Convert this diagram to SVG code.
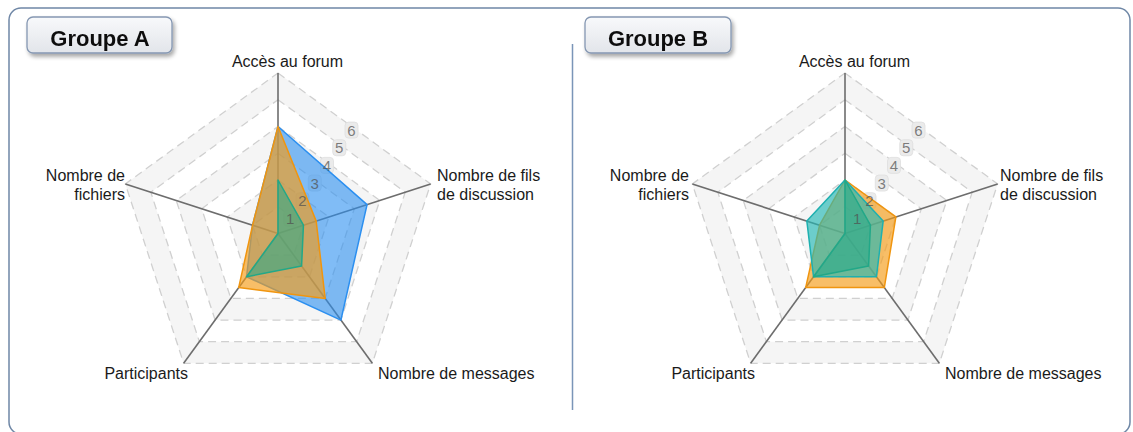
<svg xmlns="http://www.w3.org/2000/svg" xmlns:xlink="http://www.w3.org/1999/xlink" width="1133" height="432" viewBox="0 0 1133 432">
  <style>
    .band-g { fill: #f5f5f5; }
    .band-w { fill: #ffffff; }
    .ring { fill: none; stroke: #d0d0d0; stroke-width: 1.3; stroke-dasharray: 8 5; }
    .axis { stroke: #6d6d6d; stroke-width: 1.6; }
    .tickbox { fill: #ebebeb; stroke: #dedede; stroke-width: 0.8; }
    .tick { font-family: "Liberation Sans", Arial, sans-serif; font-size: 15px; fill: #505050; fill-opacity: 0.72; text-anchor: middle; }
    .lbl { font-family: "Liberation Sans", Arial, sans-serif; font-size: 16px; fill: #1a1a1a; }
    .title { font-family: "Liberation Sans", Arial, sans-serif; font-size: 22px; font-weight: bold; fill: #111; text-anchor: middle; }
    .titlebox { fill: url(#tg); stroke: #8597b2; stroke-width: 1.3; }
    .s-blue { fill: #2b8ff0; fill-opacity: 0.6; stroke: #2b8ff0; stroke-width: 1.5; stroke-linejoin: round; }
    .s-orange { fill: #f59b15; fill-opacity: 0.65; stroke: #f0950f; stroke-width: 1.5; stroke-linejoin: round; }
    .s-green { fill: #2aa888; fill-opacity: 0.58; stroke: #22a888; stroke-width: 1.5; stroke-linejoin: round; }
    .s-teal { fill: #25b8b5; fill-opacity: 0.66; stroke: #1eb0b0; stroke-width: 1.5; stroke-linejoin: round; }
  </style>
  <defs>
    <linearGradient id="tg" x1="0" y1="0" x2="0" y2="1">
      <stop offset="0" stop-color="#f8f9fb"/>
      <stop offset="1" stop-color="#e2e5ea"/>
    </linearGradient>
    <filter id="sh" x="-10%" y="-20%" width="130%" height="160%">
      <feGaussianBlur in="SourceAlpha" stdDeviation="2"/>
      <feOffset dx="2" dy="3" result="b"/>
      <feComponentTransfer><feFuncA type="linear" slope="0.35"/></feComponentTransfer>
      <feMerge><feMergeNode/><feMergeNode in="SourceGraphic"/></feMerge>
    </filter>
    <g id="grid">
      <polygon class="band-g" points="0,-160.5 152.65,-49.59 94.34,129.84 -94.34,129.84 -152.65,-49.59"/>
      <polygon class="band-w" points="0,-133.75 127.21,-41.33 78.62,108.2 -78.62,108.2 -127.21,-41.33"/>
      <polygon class="band-g" points="0,-107 101.77,-33.06 62.89,86.56 -62.89,86.56 -101.77,-33.06"/>
      <polygon class="band-w" points="0,-80.25 76.33,-24.8 47.17,64.92 -47.17,64.92 -76.33,-24.8"/>
      <polygon class="band-g" points="0,-53.5 50.88,-16.53 31.45,43.28 -31.45,43.28 -50.88,-16.53"/>
      <polygon class="band-w" points="0,-26.75 25.44,-8.27 15.72,21.64 -15.72,21.64 -25.44,-8.27"/>
      <polygon class="ring" points="0,-160.5 152.65,-49.59 94.34,129.84 -94.34,129.84 -152.65,-49.59"/>
      <polygon class="ring" points="0,-133.75 127.21,-41.33 78.62,108.2 -78.62,108.2 -127.21,-41.33"/>
      <polygon class="ring" points="0,-107 101.77,-33.06 62.89,86.56 -62.89,86.56 -101.77,-33.06"/>
      <polygon class="ring" points="0,-80.25 76.33,-24.8 47.17,64.92 -47.17,64.92 -76.33,-24.8"/>
      <polygon class="ring" points="0,-53.5 50.88,-16.53 31.45,43.28 -31.45,43.28 -50.88,-16.53"/>
      <polygon class="ring" points="0,-26.75 25.44,-8.27 15.72,21.64 -15.72,21.64 -25.44,-8.27"/>
      <line class="axis" x1="0" y1="0" x2="0" y2="-160.5"/>
      <line class="axis" x1="0" y1="0" x2="152.65" y2="-49.59"/>
      <line class="axis" x1="0" y1="0" x2="94.34" y2="129.84"/>
      <line class="axis" x1="0" y1="0" x2="-94.34" y2="129.84"/>
      <line class="axis" x1="0" y1="0" x2="-152.65" y2="-49.59"/>
      <rect class="tickbox" x="5.75" y="-23.15" width="13" height="16" rx="3.5"/>
      <rect class="tickbox" x="18" y="-40.8" width="13" height="16" rx="3.5"/>
      <rect class="tickbox" x="30.25" y="-58.45" width="13" height="16" rx="3.5"/>
      <rect class="tickbox" x="42.5" y="-76.1" width="13" height="16" rx="3.5"/>
      <rect class="tickbox" x="54.75" y="-93.75" width="13" height="16" rx="3.5"/>
      <rect class="tickbox" x="67" y="-111.4" width="13" height="16" rx="3.5"/>
    </g>
    <g id="ticks">
      <text class="tick" x="12.25" y="-9.7">1</text>
      <text class="tick" x="24.5" y="-27.4">2</text>
      <text class="tick" x="36.75" y="-45">3</text>
      <text class="tick" x="49" y="-62.7">4</text>
      <text class="tick" x="61.25" y="-80.3">5</text>
      <text class="tick" x="73.5" y="-98">6</text>
    </g>
  </defs>

  <g id="frame">
    <rect x="9" y="8" width="1121" height="426" rx="12" fill="#ffffff" stroke="#6f87a6" stroke-width="1.5"/>
    <line x1="572.5" y1="44" x2="572.5" y2="410" stroke="#7a95b8" stroke-width="1.5"/>
  </g>

  <g id="title-a" filter="url(#sh)">
    <rect class="titlebox" x="27" y="17" width="145" height="36" rx="6"/>
    <text class="title" x="100" y="46">Groupe A</text>
  </g>
  <g id="title-b" filter="url(#sh)">
    <rect class="titlebox" x="585" y="17" width="146" height="36" rx="6"/>
    <text class="title" x="658" y="46">Groupe B</text>
  </g>

  <g id="chart-a" transform="translate(278,233.5)">
    <use xlink:href="#grid" href="#grid"/>
    <g id="series-a">
      <polygon class="s-blue" points="0,-107 89.05,-28.93 62.89,86.56 -31.45,43.28 -25.44,-8.27"/>
      <polygon class="s-orange" points="0,-107 38.16,-12.4 47.17,64.92 -39.31,54.1 -25.44,-8.27"/>
      <polygon class="s-green" points="0,-53.5 25.44,-8.27 23.58,32.46 -31.45,43.28 0,0"/>
    </g>
    <use xlink:href="#ticks" href="#ticks"/>
  </g>
  <g id="labels-a">
    <text class="lbl" x="287.5" y="67" text-anchor="middle">Accès au forum</text>
    <text class="lbl" x="437" y="181">Nombre de fils</text>
    <text class="lbl" x="437" y="200">de discussion</text>
    <text class="lbl" x="378" y="379">Nombre de messages</text>
    <text class="lbl" x="188" y="379" text-anchor="end">Participants</text>
    <text class="lbl" x="125" y="181" text-anchor="end">Nombre de</text>
    <text class="lbl" x="125" y="200" text-anchor="end">fichiers</text>
  </g>

  <g id="chart-b" transform="translate(845,233.5)">
    <use xlink:href="#grid" href="#grid"/>
    <g id="series-b">
      <polygon class="s-orange" points="0,-53.5 50.88,-16.53 39.31,54.1 -39.31,54.1 -25.44,-8.27"/>
      <polygon class="s-teal" points="0,-53.5 38.16,-12.4 31.45,43.28 -31.45,43.28 -38.16,-12.4"/>
      <polygon class="s-green" points="0,-53.5 25.44,-8.27 23.58,32.46 -31.45,43.28 0,0"/>
    </g>
    <use xlink:href="#ticks" href="#ticks"/>
  </g>
  <g id="labels-b">
    <text class="lbl" x="854.5" y="67" text-anchor="middle">Accès au forum</text>
    <text class="lbl" x="1000" y="181">Nombre de fils</text>
    <text class="lbl" x="1000" y="200">de discussion</text>
    <text class="lbl" x="945" y="379">Nombre de messages</text>
    <text class="lbl" x="755" y="379" text-anchor="end">Participants</text>
    <text class="lbl" x="689" y="181" text-anchor="end">Nombre de</text>
    <text class="lbl" x="689" y="200" text-anchor="end">fichiers</text>
  </g>
</svg>
